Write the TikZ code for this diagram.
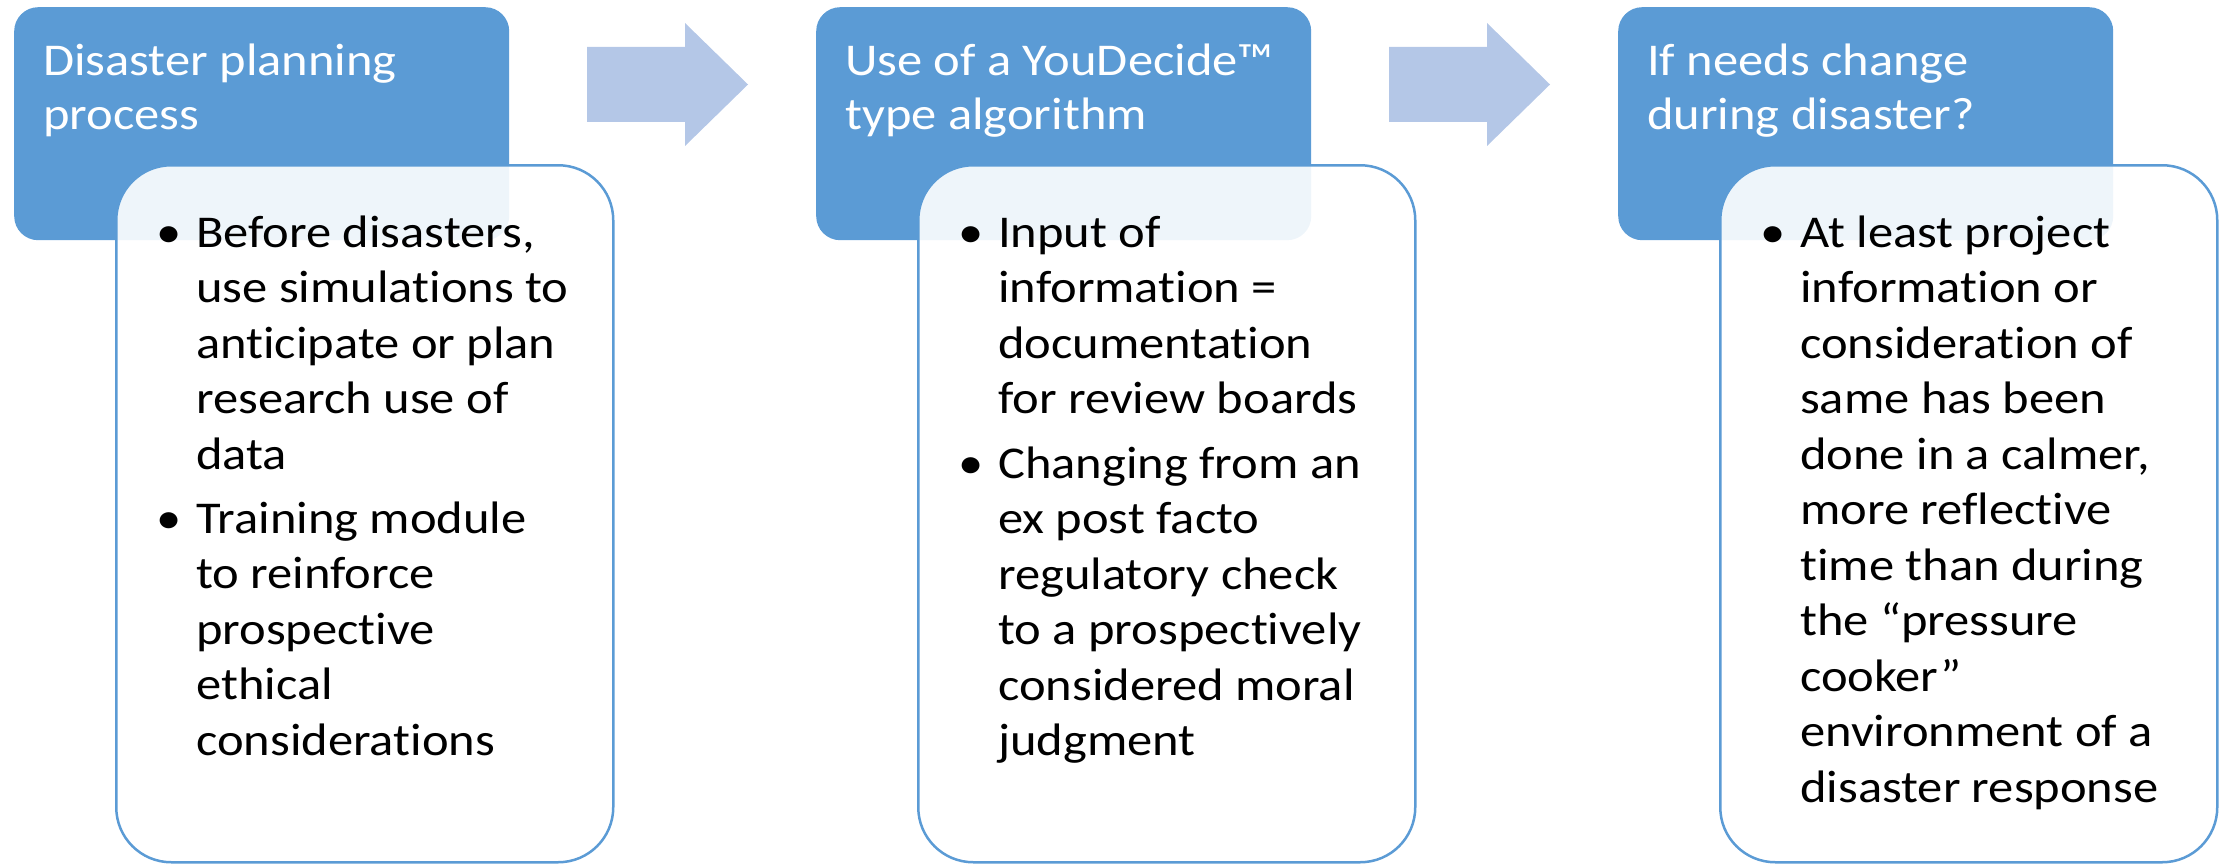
\documentclass[tikz,border=0pt]{standalone}
\usepackage{fontspec}
\setmainfont{Carlito}[FakeStretch=1.11, Ligatures=NoCommon]
\usepackage{xcolor}
\usepackage{tikz}

\definecolor{hdblue}{HTML}{5B9BD5}
\definecolor{arrowblue}{HTML}{B4C7E7}

\begin{document}
\begin{tikzpicture}[x=1pt, y=-1pt,
  headbox/.style={fill=hdblue, rounded corners=24pt, minimum width=495pt, minimum height=233pt, anchor=north west, inner sep=0pt},
  bodybox/.style={draw=hdblue, line width=2.5pt, fill=white, fill opacity=0.9, rounded corners=55pt, minimum width=497pt, minimum height=697pt, anchor=north west, inner sep=0pt},
  headtext/.style={anchor=base west, inner sep=0pt, text=white, font=\fontsize{45.5}{54}\selectfont},
  itemtext/.style={anchor=base west, inner sep=0pt, font=\fontsize{45.5}{55.5}\selectfont},
  itemdot/.style={anchor=base, inner sep=0pt, font=\fontsize{45.5}{55.5}\selectfont}]
\useasboundingbox (0,0) rectangle (2224,864);

\node[headbox] (planhead) at (14,7) {};
\node[headbox] (algohead) at (816,7) {};
\node[headbox] (changehead) at (1618,7) {};

\node[bodybox] (planbody) at (115,164) {};
\node[bodybox] (algobody) at (917,164) {};
\node[bodybox] (changebody) at (1719,164) {};

\fill[arrowblue] (587,47) -- (685,47) -- (685,23) -- (748,84.5) -- (685,146) -- (685,122) -- (587,122) -- cycle;
\fill[arrowblue] (1389,47) -- (1487,47) -- (1487,23) -- (1550,84.5) -- (1487,146) -- (1487,122) -- (1389,122) -- cycle;

\node[headtext] (plantitle) at (43,76) {\parbox[t]{460pt}{Disaster planning\\process}};
\node[headtext] (algotitle) at (845,76) {\parbox[t]{460pt}{Use of a YouDecide™\\type algorithm}};
\node[headtext] (changetitle) at (1647,76) {\parbox[t]{460pt}{If needs change\\during disaster?}};

\node[itemdot] (plandota) at (169,247) {•};
\node[itemtext] (planitema) at (196,247) {\parbox[t]{420pt}{Before disasters,\\use simulations to\\anticipate or plan\\research use of\\data}};
\node[itemdot] (plandotb) at (169,533) {•};
\node[itemtext] (planitemb) at (196,533) {\parbox[t]{420pt}{Training module\\to reinforce\\prospective\\ethical\\considerations}};

\node[itemdot] (algodota) at (971,247) {•};
\node[itemtext] (algoitema) at (998,247) {\parbox[t]{420pt}{Input of\\information =\\documentation\\for review boards}};
\node[itemdot] (algodotb) at (971,478) {•};
\node[itemtext] (algoitemb) at (998,478) {\parbox[t]{420pt}{Changing from an\\ex post facto\\regulatory check\\to a prospectively\\considered moral\\judgment}};

\node[itemdot] (changedota) at (1773,247) {•};
\node[itemtext] (changeitema) at (1800,247) {\parbox[t]{420pt}{At least project\\information or\\consideration of\\same has been\\done in a calmer,\\more reflective\\time than during\\the “pressure\\cooker”\\environment of a\\disaster response}};
\end{tikzpicture}
\end{document}
